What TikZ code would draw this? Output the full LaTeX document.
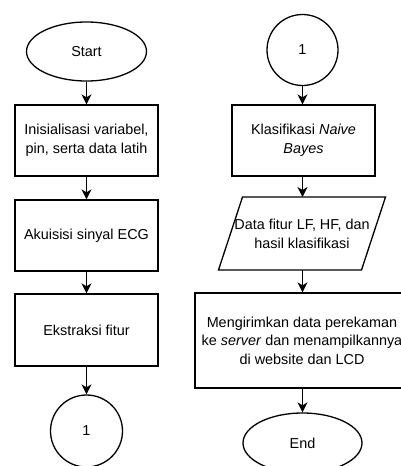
\documentclass[tikz,border=0pt]{standalone}
\usepackage{fontspec}
\setmainfont{Liberation Sans}
\usetikzlibrary{shapes.geometric,arrows.meta,calc}
\begin{document}
\begin{tikzpicture}[x=1pt,y=-1pt,
  line width=1.3pt,
  every node/.style={font=\fontsize{14.4}{18.5}\selectfont, align=center, inner sep=0pt},
  procbox/.style={draw, rectangle, minimum width=143pt, minimum height=71pt},
  termin/.style={draw, ellipse, minimum width=120pt, minimum height=59pt},
  conn/.style={draw, circle, minimum size=71pt},
  arr/.style={-{Stealth[length=10pt,width=10pt,inset=3pt]}}
]
\useasboundingbox (0,0) rectangle (401,466);
% left column
\node[termin] (start) at (86.5,51.5) {Start};
\node[procbox] (init) at (86.5,140.5) {Inisialisasi variabel,\\pin, serta data latih};
\node[procbox] (akui) at (86.5,235.5) {Akuisisi sinyal ECG};
\node[procbox, minimum height=72pt] (ekst) at (86.5,330) {Ekstraksi fitur};
\node[conn, minimum size=72pt] (c1) at (86.5,431) {1};
% right column
\node[conn] (c2) at (302.5,50) {1};
\node[procbox] (klas) at (303.5,140.5) {Klasifikasi \textit{Naive}\\\textit{Bayes}};
\node (data) at (302,234) {Data fitur LF, HF, dan\\hasil klasifikasi};
\coordinate (pNW) at (242.5,197);
\coordinate (pNE) at (385.5,197);
\coordinate (pSE) at (361.5,270);
\coordinate (pSW) at (218.5,270);
\coordinate (pTop) at (302.5,197);
\coordinate (pBot) at (302.5,270);
\draw (pNW) -- (pNE) -- (pSE) -- (pSW) -- cycle;
\node[procbox, minimum width=214pt, minimum height=95pt] (kirim) at (302,340.5) {Mengirimkan data perekaman\\ke \textit{server} dan menampilkannya\\di website dan LCD};
\node[termin, minimum width=119pt, minimum height=60pt] (end) at (302.5,443) {End};
% connectors
\draw[arr] (start) -- (init);
\draw[arr] (init) -- (akui);
\draw[arr] (akui) -- (ekst);
\draw[arr] (ekst) -- (c1);
\draw[arr] (c2.south) -- (klas.north -| c2.south);
\draw[arr] (klas.south -| pTop) -- (pTop);
\draw[arr] (pBot) -- (kirim.north -| pBot);
\draw[arr] (kirim.south -| end.north) -- (end.north);
\end{tikzpicture}
\end{document}
